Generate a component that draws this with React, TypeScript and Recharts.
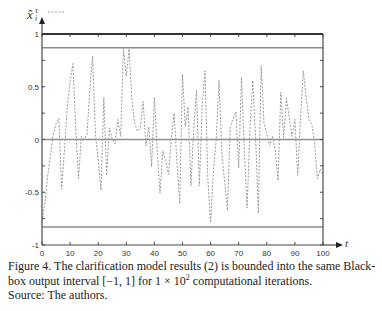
import React from "react";
import { LineChart, Line, XAxis, YAxis, ReferenceLine } from "recharts";

// iteration index 0..100 and the model output
const iterations = Array.from({ length: 101 }, (_, i) => i);
const outputs = [
  -0.78, -0.6, -0.35, -0.15, 0.05, 0.15, 0.2, -0.47, -0.1, 0.3,
  0.55, 0.72, 0.1, -0.37, 0.03, 0.0, 0.05, 0.45, 0.79, 0.06,
  -0.2, -0.48, 0.4, -0.34, 0.11, 0.0, -0.04, 0.19, 0.03, 0.86,
  0.6, 0.86, 0.37, 0.15, 0.08, 0.11, 0.36, -0.06, 0.12, -0.26,
  0.4, -0.1, -0.51, -0.11, -0.2, -0.33, 0.0, 0.25, -0.2, -0.61,
  0.62, 0.12, 0.31, -0.44, 0.1, 0.47, -0.44, 0.31, 0.65, -0.37,
  -0.79, -0.3, 0.0, 0.56, -0.13, -0.4, -0.67, 0.12, 0.2, 0.26,
  -0.27, 0.59, -0.1, -0.65, 0.1, 0.56, 0.03, -0.7, 0.7, 0.16,
  0.05, -0.06, 0.03, -0.1, -0.39, 0.45, 0.02, 0.39, 0.2, 0.03,
  0.19, -0.34, 0.2, 0.65, 0.4, 0.19, 0.15, -0.03, -0.37, -0.28,
  -0.34,
];
const bounds = [0.87, 0, -0.83];
const xTicks = [0, 10, 20, 30, 40, 50, 60, 70, 80, 90, 100];
const yTicks = [-1, -0.75, -0.5, -0.25, 0, 0.25, 0.5, 0.75, 1];
const yLabels = [-1, -0.5, 0, 0.5, 1];

const data = iterations.map((t, i) => ({ t, v: outputs[i] }));

// plot box in page pixels
const LEFT = 42, RIGHT = 323, TOP = 34, BOTTOM = 245;

const axisColor = "#4a4a4a";
const labelFont = { fontFamily: "Liberation Sans, Arial", fontSize: 8, fill: "#333" };

// bottom axis tick also mirrors a small mark on the top frame
const BottomTick = (p: any) => (
  <g>
    <line x1={p.x} y1={p.y} x2={p.x} y2={p.y - 3} stroke={axisColor} />
    <line x1={p.x} y1={TOP} x2={p.x} y2={TOP + 3} stroke={axisColor} />
    <text x={p.x} y={p.y + 11} textAnchor="middle" {...labelFont}>{p.payload.value}</text>
  </g>
);
// left axis tick also mirrors a small mark on the right frame
const LeftTick = (p: any) => (
  <g>
    <line x1={p.x} y1={p.y} x2={p.x + 3} y2={p.y} stroke={axisColor} />
    <line x1={RIGHT} y1={p.y} x2={RIGHT - 3} y2={p.y} stroke={axisColor} />
    {yLabels.includes(p.payload.value) && (
      <text x={p.x - 3} y={p.y + 3} textAnchor="end" {...labelFont}>{p.payload.value}</text>
    )}
  </g>
);

export default function App() {
  return (
    <div style={{ position: "absolute", left: 0, top: 0, width: 382, height: 311, background: "#fff" }}>
      <LineChart width={382} height={262} data={data} margin={{ top: TOP, right: 382 - RIGHT, left: 0, bottom: 0 }}>
        <XAxis dataKey="t" type="number" domain={[0, 100]} ticks={xTicks} height={262 - BOTTOM}
          tickSize={0} tickMargin={0} tick={<BottomTick />} axisLine={{ stroke: axisColor, strokeWidth: 1.2 }} tickLine={false} />
        <YAxis type="number" domain={[-1, 1]} ticks={yTicks} width={LEFT}
          tickSize={0} tickMargin={0} tick={<LeftTick />} axisLine={{ stroke: axisColor, strokeWidth: 1.2 }} tickLine={false} />
        {bounds.map((b) => (
          <ReferenceLine key={b} y={b} stroke="#8c8c8c" strokeWidth={1.5} />
        ))}
        <Line dataKey="v" type="linear" stroke="#9a9a9a" strokeWidth={1}
          strokeDasharray="2 1.5" dot={false} isAnimationActive={false} />
      </LineChart>
      <svg width={382} height={262} style={{ position: "absolute", left: 0, top: 0, pointerEvents: "none" }}>
        <line x1={LEFT} y1={TOP} x2={RIGHT} y2={TOP} stroke="#333" strokeWidth={1.8} />
        <line x1={RIGHT} y1={TOP} x2={RIGHT} y2={BOTTOM} stroke={axisColor} strokeWidth={1.2} />
        <line x1={LEFT} y1={22} x2={LEFT} y2={TOP} stroke={axisColor} strokeWidth={1.2} />
        <polygon points="42,17 39,24 45,24" fill="#222" />
        <line x1={RIGHT} y1={BOTTOM} x2={337} y2={BOTTOM} stroke={axisColor} strokeWidth={1.2} />
        <polygon points="343,245 336,242 336,248" fill="#222" />
        <text x={345} y={247} fontFamily="Liberation Serif" fontStyle="italic" fontSize={11} fill="#333">t</text>
        <text x={27} y={19} fontFamily="Liberation Serif" fontStyle="italic" fontSize={13} fill="#333">x̂</text>
        <text x={35} y={13} fontFamily="Liberation Serif" fontStyle="italic" fontSize={8} fill="#333">τ</text>
        <text x={35} y={21} fontFamily="Liberation Serif" fontStyle="italic" fontSize={8} fill="#333">i</text>
        <line x1={48} y1={12} x2={64} y2={12} stroke="#9a9a9a" strokeDasharray="2 1.5" />
      </svg>
      <div style={{ position: "absolute", left: 8, top: 259, width: 374, fontFamily: "Liberation Serif", fontSize: 12, lineHeight: "14.5px", color: "#222" }}>
        <div>Figure 4. The clarification model results (2) is bounded into the same Black-</div>
        <div>box output interval [−1, 1] for 1 × 10<sup style={{ fontSize: 8, lineHeight: 0 }}>2</sup> computational iterations.</div>
        <div>Source: The authors.</div>
      </div>
    </div>
  );
}
